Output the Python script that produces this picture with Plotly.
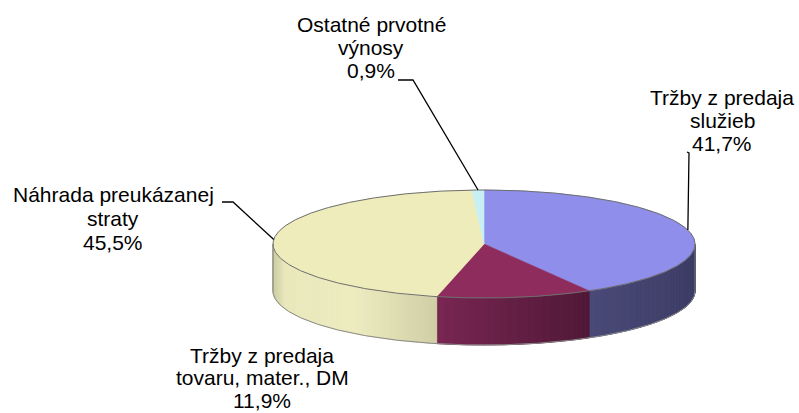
import numpy as np
import plotly.graph_objects as go

# ---------------- data ----------------
names = ["Tržby z predaja služieb",
         "Tržby z predaja tovaru, mater., DM",
         "Náhrada preukázanej straty",
         "Ostatné prvotné výnosy"]
values = [41.7, 11.9, 45.5, 0.9]
label_lines = [["Tržby z predaja", "služieb"],
               ["Tržby z predaja", "tovaru, mater., DM"],
               ["Náhrada preukázanej", "straty"],
               ["Ostatné prvotné", "výnosy"]]

# ---------------- style ----------------
top_colors = ["#8F8FEB", "#8E2D5D", "#EEECBA", "#C6F0F4"]
side_stops = [
    [(0.0, (74, 74, 120)), (1.0, (60, 60, 102))],
    [(0.0, (120, 38, 82)), (1.0, (80, 24, 55))],
    [(0.0, (204, 204, 164)), (0.07, (232, 232, 188)), (0.5, (237, 235, 191)), (1.0, (208, 206, 165))],
    [(0.0, (170, 205, 210)), (1.0, (150, 185, 190))],
]
# label placement: (x centre, y of first line centre, line gap)
label_pos = [(722, 97, 23), (262, 355, 22.5), (113, 194, 24), (371, 24, 23)]
# leader line start points (near the labels); None = no leader
leader_start = [[(687, 152), (689, 153)], None, [(222, 202), (233, 202)], [(398, 80), (413, 80)]]

W, H = 799, 413
CX, CY, A, B, D = 484, 244, 211, 54, 47
FONT = "Liberation Sans, Arial, sans-serif"


def pt(theta):
    th = np.radians(theta)
    return CX + A * np.sin(th), CY - B * np.cos(th)


def interp(stops, t):
    t = min(max(t, 0.0), 1.0)
    for (t0, c0), (t1, c1) in zip(stops[:-1], stops[1:]):
        if t <= t1:
            f = 0 if t1 == t0 else (t - t0) / (t1 - t0)
            c = [round(c0[k] + (c1[k] - c0[k]) * f) for k in range(3)]
            return "rgb(%d,%d,%d)" % tuple(c)
    return "rgb(%d,%d,%d)" % stops[-1][1]


total = sum(values)
cum = np.concatenate([[0], np.cumsum(values)])
starts = 360 * cum[:-1] / total
ends = 360 * cum[1:] / total

fig = go.Figure()

# side (front) faces, drawn as thin shaded strips
for i in range(len(values)):
    s, e = max(starts[i], 90), min(ends[i], 270)
    if e <= s:
        continue
    xa, _ = pt(s)
    xb, _ = pt(e)
    xmin, xmax = min(xa, xb), max(xa, xb)
    n = max(2, int(np.ceil((e - s) / 1.0)))
    th = np.linspace(s, e, n + 1)
    for k in range(n):
        x1, y1 = pt(th[k])
        x2, y2 = pt(th[k + 1])
        t = (((x1 + x2) / 2) - xmin) / (xmax - xmin) if xmax > xmin else 0.5
        col = interp(side_stops[i], t)
        fig.add_trace(go.Scatter(
            x=[x1, x2, x2, x1, x1], y=[y1, y2, y2 + D, y1 + D, y1],
            mode="lines", fill="toself", fillcolor=col,
            line=dict(color=col, width=1), hoverinfo="skip", showlegend=False))

# top faces
for i in range(len(values)):
    n = max(3, int(np.ceil((ends[i] - starts[i]) / 0.5)))
    th = np.linspace(starts[i], ends[i], n + 1)
    xs, ys = pt(th)
    px = [CX] + list(xs) + [CX]
    py = [CY] + list(ys) + [CY]
    fig.add_trace(go.Scatter(
        x=px, y=py, mode="lines", fill="toself", fillcolor=top_colors[i],
        line=dict(color=top_colors[i], width=0.6), hoverinfo="skip", showlegend=False))

# outlines
th = np.linspace(0, 360, 721)
ox, oy = pt(th)
fig.add_trace(go.Scatter(x=ox, y=oy, mode="lines", line=dict(color="#6e6e6e", width=1),
                         hoverinfo="skip", showlegend=False))
th = np.linspace(90, 270, 361)
bx, by = pt(th)
fig.add_trace(go.Scatter(x=list(bx), y=list(by + D), mode="lines",
                         line=dict(color="#8a8a8a", width=1), hoverinfo="skip", showlegend=False))
for ang in (90, 270):
    x0, y0 = pt(ang)
    fig.add_trace(go.Scatter(x=[x0, x0], y=[y0, y0 + D], mode="lines",
                             line=dict(color="#7a7a7a", width=1), hoverinfo="skip", showlegend=False))

# leader lines to mid-angle of slices
for i in range(len(values)):
    if leader_start[i] is None:
        continue
    mx, my = pt((starts[i] + ends[i]) / 2)
    xs = [p[0] for p in leader_start[i]] + [mx]
    ys = [p[1] for p in leader_start[i]] + [my]
    fig.add_trace(go.Scatter(x=xs, y=ys, mode="lines", line=dict(color="black", width=1.3),
                             hoverinfo="skip", showlegend=False))

# labels
for i in range(len(values)):
    lx, ly, gap = label_pos[i]
    lines = label_lines[i] + [("%.1f" % values[i]).replace(".", ",") + "%"]
    for j, txt in enumerate(lines):
        fig.add_annotation(x=lx, y=ly + j * gap, text=txt, showarrow=False,
                           xanchor="center", yanchor="middle", xref="x", yref="y",
                           borderpad=0,
                           font=dict(family=FONT, size=21, color="black"))

fig.update_layout(
    width=W, height=H, margin=dict(l=0, r=0, t=0, b=0),
    paper_bgcolor="white", plot_bgcolor="white", showlegend=False,
    hovermode=False,
    xaxis=dict(range=[0, W], visible=False, fixedrange=True),
    yaxis=dict(range=[H, 0], visible=False, fixedrange=True),
)

fig.write_html("out.html", config={"displayModeBar": False},
               post_script="document.body.style.margin='0';document.body.style.overflow='hidden';")
